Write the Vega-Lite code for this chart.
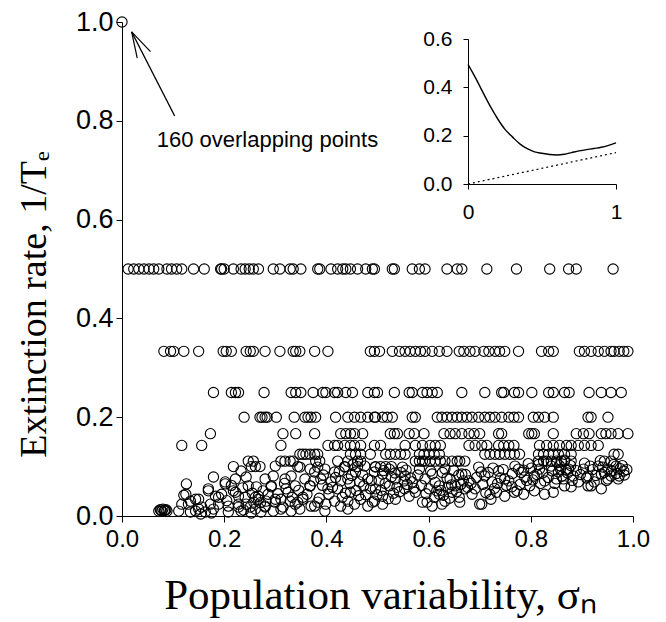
{
  "$schema": "https://vega.github.io/schema/vega-lite/v6.json",
  "width": 511,
  "height": 494,
  "autosize": {"type": "none"},
  "padding": {"left": 122, "top": 22, "right": 33, "bottom": 106},
  "background": "white",
  "config": {
    "view": {"stroke": null},
    "axis": {
      "grid": false,
      "domainColor": "black",
      "tickColor": "black",
      "labelColor": "black",
      "titleColor": "black",
      "labelFont": "Liberation Sans",
      "labelFontSize": 24,
      "tickSize": 6,
      "labelFlush": false,
      "labelOverlap": false,
      "labelPadding": 4
    }
  },
  "datasets": {
    "pts": [
      {"x": 0.0, "y": 1.0},
      {"x": 0.012, "y": 0.5}, {"x": 0.023, "y": 0.5}, {"x": 0.033, "y": 0.5}, {"x": 0.043, "y": 0.5}, {"x": 0.053, "y": 0.5}, {"x": 0.062, "y": 0.5}, {"x": 0.072, "y": 0.5}, {"x": 0.088, "y": 0.5}, {"x": 0.097, "y": 0.5}, {"x": 0.107, "y": 0.5}, {"x": 0.117, "y": 0.5}, {"x": 0.140, "y": 0.5}, {"x": 0.161, "y": 0.5}, {"x": 0.193, "y": 0.5}, {"x": 0.195, "y": 0.5}, {"x": 0.200, "y": 0.5}, {"x": 0.218, "y": 0.5}, {"x": 0.233, "y": 0.5}, {"x": 0.241, "y": 0.5}, {"x": 0.249, "y": 0.5}, {"x": 0.257, "y": 0.5}, {"x": 0.267, "y": 0.5}, {"x": 0.296, "y": 0.5}, {"x": 0.309, "y": 0.5}, {"x": 0.329, "y": 0.5}, {"x": 0.335, "y": 0.5}, {"x": 0.350, "y": 0.5}, {"x": 0.383, "y": 0.5}, {"x": 0.387, "y": 0.5}, {"x": 0.409, "y": 0.5}, {"x": 0.422, "y": 0.5}, {"x": 0.432, "y": 0.5}, {"x": 0.438, "y": 0.5}, {"x": 0.447, "y": 0.5}, {"x": 0.461, "y": 0.5}, {"x": 0.477, "y": 0.5}, {"x": 0.490, "y": 0.5}, {"x": 0.494, "y": 0.5}, {"x": 0.529, "y": 0.5}, {"x": 0.533, "y": 0.5}, {"x": 0.568, "y": 0.5}, {"x": 0.582, "y": 0.5}, {"x": 0.593, "y": 0.5}, {"x": 0.636, "y": 0.5}, {"x": 0.656, "y": 0.5}, {"x": 0.665, "y": 0.5}, {"x": 0.714, "y": 0.5}, {"x": 0.772, "y": 0.5}, {"x": 0.837, "y": 0.5}, {"x": 0.874, "y": 0.5}, {"x": 0.889, "y": 0.5}, {"x": 0.961, "y": 0.5},
      {"x": 0.082, "y": 0.3333}, {"x": 0.095, "y": 0.3333}, {"x": 0.101, "y": 0.3333}, {"x": 0.121, "y": 0.3333}, {"x": 0.150, "y": 0.3333}, {"x": 0.198, "y": 0.3333}, {"x": 0.204, "y": 0.3333}, {"x": 0.214, "y": 0.3333}, {"x": 0.243, "y": 0.3333}, {"x": 0.251, "y": 0.3333}, {"x": 0.257, "y": 0.3333}, {"x": 0.280, "y": 0.3333}, {"x": 0.309, "y": 0.3333}, {"x": 0.335, "y": 0.3333}, {"x": 0.340, "y": 0.3333}, {"x": 0.348, "y": 0.3333}, {"x": 0.377, "y": 0.3333}, {"x": 0.403, "y": 0.3333}, {"x": 0.486, "y": 0.3333}, {"x": 0.494, "y": 0.3333}, {"x": 0.504, "y": 0.3333}, {"x": 0.529, "y": 0.3333}, {"x": 0.543, "y": 0.3333}, {"x": 0.554, "y": 0.3333}, {"x": 0.564, "y": 0.3333}, {"x": 0.574, "y": 0.3333}, {"x": 0.584, "y": 0.3333}, {"x": 0.593, "y": 0.3333}, {"x": 0.607, "y": 0.3333}, {"x": 0.621, "y": 0.3333}, {"x": 0.636, "y": 0.3333}, {"x": 0.660, "y": 0.3333}, {"x": 0.669, "y": 0.3333}, {"x": 0.681, "y": 0.3333}, {"x": 0.691, "y": 0.3333}, {"x": 0.708, "y": 0.3333}, {"x": 0.718, "y": 0.3333}, {"x": 0.730, "y": 0.3333}, {"x": 0.739, "y": 0.3333}, {"x": 0.749, "y": 0.3333}, {"x": 0.776, "y": 0.3333}, {"x": 0.821, "y": 0.3333}, {"x": 0.835, "y": 0.3333}, {"x": 0.844, "y": 0.3333}, {"x": 0.895, "y": 0.3333}, {"x": 0.905, "y": 0.3333}, {"x": 0.918, "y": 0.3333}, {"x": 0.932, "y": 0.3333}, {"x": 0.944, "y": 0.3333}, {"x": 0.957, "y": 0.3333}, {"x": 0.963, "y": 0.3333}, {"x": 0.973, "y": 0.3333}, {"x": 0.982, "y": 0.3333}, {"x": 0.990, "y": 0.3333},
      {"x": 0.179, "y": 0.25}, {"x": 0.214, "y": 0.25}, {"x": 0.222, "y": 0.25}, {"x": 0.228, "y": 0.25}, {"x": 0.278, "y": 0.25}, {"x": 0.331, "y": 0.25}, {"x": 0.340, "y": 0.25}, {"x": 0.350, "y": 0.25}, {"x": 0.374, "y": 0.25}, {"x": 0.393, "y": 0.25}, {"x": 0.399, "y": 0.25}, {"x": 0.416, "y": 0.25}, {"x": 0.422, "y": 0.25}, {"x": 0.438, "y": 0.25}, {"x": 0.451, "y": 0.25}, {"x": 0.481, "y": 0.25}, {"x": 0.494, "y": 0.25}, {"x": 0.500, "y": 0.25}, {"x": 0.533, "y": 0.25}, {"x": 0.562, "y": 0.25}, {"x": 0.568, "y": 0.25}, {"x": 0.588, "y": 0.25}, {"x": 0.597, "y": 0.25}, {"x": 0.607, "y": 0.25}, {"x": 0.617, "y": 0.25}, {"x": 0.665, "y": 0.25}, {"x": 0.710, "y": 0.25}, {"x": 0.743, "y": 0.25}, {"x": 0.747, "y": 0.25}, {"x": 0.768, "y": 0.25}, {"x": 0.776, "y": 0.25}, {"x": 0.802, "y": 0.25}, {"x": 0.835, "y": 0.25}, {"x": 0.844, "y": 0.25}, {"x": 0.866, "y": 0.25}, {"x": 0.875, "y": 0.25}, {"x": 0.914, "y": 0.25}, {"x": 0.938, "y": 0.25}, {"x": 0.957, "y": 0.25}, {"x": 0.977, "y": 0.25},
      {"x": 0.239, "y": 0.2}, {"x": 0.270, "y": 0.2}, {"x": 0.274, "y": 0.2}, {"x": 0.280, "y": 0.2}, {"x": 0.284, "y": 0.2}, {"x": 0.302, "y": 0.2}, {"x": 0.337, "y": 0.2}, {"x": 0.358, "y": 0.2}, {"x": 0.364, "y": 0.2}, {"x": 0.370, "y": 0.2}, {"x": 0.379, "y": 0.2}, {"x": 0.418, "y": 0.2}, {"x": 0.442, "y": 0.2}, {"x": 0.455, "y": 0.2}, {"x": 0.467, "y": 0.2}, {"x": 0.481, "y": 0.2}, {"x": 0.494, "y": 0.2}, {"x": 0.496, "y": 0.2}, {"x": 0.510, "y": 0.2}, {"x": 0.519, "y": 0.2}, {"x": 0.529, "y": 0.2}, {"x": 0.568, "y": 0.2}, {"x": 0.574, "y": 0.2}, {"x": 0.617, "y": 0.2}, {"x": 0.626, "y": 0.2}, {"x": 0.636, "y": 0.2}, {"x": 0.646, "y": 0.2}, {"x": 0.656, "y": 0.2}, {"x": 0.665, "y": 0.2}, {"x": 0.675, "y": 0.2}, {"x": 0.685, "y": 0.2}, {"x": 0.698, "y": 0.2}, {"x": 0.710, "y": 0.2}, {"x": 0.720, "y": 0.2}, {"x": 0.730, "y": 0.2}, {"x": 0.743, "y": 0.2}, {"x": 0.757, "y": 0.2}, {"x": 0.767, "y": 0.2}, {"x": 0.776, "y": 0.2}, {"x": 0.805, "y": 0.2}, {"x": 0.815, "y": 0.2}, {"x": 0.827, "y": 0.2}, {"x": 0.844, "y": 0.2}, {"x": 0.912, "y": 0.2}, {"x": 0.918, "y": 0.2}, {"x": 0.951, "y": 0.2},
      {"x": 0.173, "y": 0.1667}, {"x": 0.315, "y": 0.1667}, {"x": 0.340, "y": 0.1667}, {"x": 0.377, "y": 0.1667}, {"x": 0.428, "y": 0.1667}, {"x": 0.438, "y": 0.1667}, {"x": 0.447, "y": 0.1667}, {"x": 0.455, "y": 0.1667}, {"x": 0.471, "y": 0.1667}, {"x": 0.525, "y": 0.1667}, {"x": 0.533, "y": 0.1667}, {"x": 0.539, "y": 0.1667}, {"x": 0.562, "y": 0.1667}, {"x": 0.572, "y": 0.1667}, {"x": 0.591, "y": 0.1667}, {"x": 0.630, "y": 0.1667}, {"x": 0.642, "y": 0.1667}, {"x": 0.652, "y": 0.1667}, {"x": 0.665, "y": 0.1667}, {"x": 0.679, "y": 0.1667}, {"x": 0.689, "y": 0.1667}, {"x": 0.700, "y": 0.1667}, {"x": 0.737, "y": 0.1667}, {"x": 0.743, "y": 0.1667}, {"x": 0.796, "y": 0.1667}, {"x": 0.802, "y": 0.1667}, {"x": 0.807, "y": 0.1667}, {"x": 0.844, "y": 0.1667}, {"x": 0.889, "y": 0.1667}, {"x": 0.903, "y": 0.1667}, {"x": 0.914, "y": 0.1667}, {"x": 0.938, "y": 0.1667}, {"x": 0.947, "y": 0.1667}, {"x": 0.957, "y": 0.1667}, {"x": 0.971, "y": 0.1667}, {"x": 0.990, "y": 0.1667},
      {"x": 0.117, "y": 0.1429}, {"x": 0.156, "y": 0.1429}, {"x": 0.311, "y": 0.1429}, {"x": 0.403, "y": 0.1429}, {"x": 0.416, "y": 0.1429}, {"x": 0.422, "y": 0.1429}, {"x": 0.436, "y": 0.1429}, {"x": 0.447, "y": 0.1429}, {"x": 0.455, "y": 0.1429}, {"x": 0.467, "y": 0.1429}, {"x": 0.494, "y": 0.1429}, {"x": 0.506, "y": 0.1429}, {"x": 0.554, "y": 0.1429}, {"x": 0.574, "y": 0.1429}, {"x": 0.588, "y": 0.1429}, {"x": 0.603, "y": 0.1429}, {"x": 0.613, "y": 0.1429}, {"x": 0.623, "y": 0.1429}, {"x": 0.679, "y": 0.1429}, {"x": 0.691, "y": 0.1429}, {"x": 0.704, "y": 0.1429}, {"x": 0.714, "y": 0.1429}, {"x": 0.737, "y": 0.1429}, {"x": 0.747, "y": 0.1429}, {"x": 0.757, "y": 0.1429}, {"x": 0.767, "y": 0.1429}, {"x": 0.817, "y": 0.1429}, {"x": 0.831, "y": 0.1429}, {"x": 0.844, "y": 0.1429}, {"x": 0.856, "y": 0.1429}, {"x": 0.870, "y": 0.1429}, {"x": 0.879, "y": 0.1429}, {"x": 0.893, "y": 0.1429}, {"x": 0.905, "y": 0.1429}, {"x": 0.918, "y": 0.1429}, {"x": 0.932, "y": 0.1429},
      {"x": 0.348, "y": 0.125}, {"x": 0.354, "y": 0.125}, {"x": 0.360, "y": 0.125}, {"x": 0.368, "y": 0.125}, {"x": 0.377, "y": 0.125}, {"x": 0.383, "y": 0.125}, {"x": 0.447, "y": 0.125}, {"x": 0.457, "y": 0.125}, {"x": 0.467, "y": 0.125}, {"x": 0.486, "y": 0.125}, {"x": 0.516, "y": 0.125}, {"x": 0.525, "y": 0.125}, {"x": 0.535, "y": 0.125}, {"x": 0.545, "y": 0.125}, {"x": 0.554, "y": 0.125}, {"x": 0.582, "y": 0.125}, {"x": 0.591, "y": 0.125}, {"x": 0.601, "y": 0.125}, {"x": 0.611, "y": 0.125}, {"x": 0.621, "y": 0.125}, {"x": 0.710, "y": 0.125}, {"x": 0.720, "y": 0.125}, {"x": 0.730, "y": 0.125}, {"x": 0.739, "y": 0.125}, {"x": 0.749, "y": 0.125}, {"x": 0.759, "y": 0.125}, {"x": 0.768, "y": 0.125}, {"x": 0.778, "y": 0.125}, {"x": 0.815, "y": 0.125}, {"x": 0.825, "y": 0.125}, {"x": 0.835, "y": 0.125}, {"x": 0.844, "y": 0.125}, {"x": 0.854, "y": 0.125}, {"x": 0.866, "y": 0.125}, {"x": 0.879, "y": 0.125}, {"x": 0.963, "y": 0.125}, {"x": 0.971, "y": 0.125},
      {"x": 0.247, "y": 0.1111}, {"x": 0.257, "y": 0.1111}, {"x": 0.311, "y": 0.1111}, {"x": 0.319, "y": 0.1111}, {"x": 0.329, "y": 0.1111}, {"x": 0.335, "y": 0.1111}, {"x": 0.379, "y": 0.1111}, {"x": 0.387, "y": 0.1111}, {"x": 0.422, "y": 0.1111}, {"x": 0.442, "y": 0.1111}, {"x": 0.461, "y": 0.1111}, {"x": 0.467, "y": 0.1111}, {"x": 0.574, "y": 0.1111}, {"x": 0.582, "y": 0.1111}, {"x": 0.588, "y": 0.1111}, {"x": 0.593, "y": 0.1111}, {"x": 0.603, "y": 0.1111}, {"x": 0.613, "y": 0.1111}, {"x": 0.623, "y": 0.1111}, {"x": 0.632, "y": 0.1111}, {"x": 0.646, "y": 0.1111}, {"x": 0.656, "y": 0.1111}, {"x": 0.661, "y": 0.1111}, {"x": 0.671, "y": 0.1111}, {"x": 0.815, "y": 0.1111}, {"x": 0.825, "y": 0.1111}, {"x": 0.831, "y": 0.1111}, {"x": 0.840, "y": 0.1111}, {"x": 0.850, "y": 0.1111}, {"x": 0.860, "y": 0.1111}, {"x": 0.866, "y": 0.1111}, {"x": 0.879, "y": 0.1111}, {"x": 0.944, "y": 0.1111}, {"x": 0.957, "y": 0.1111},
      {"x": 0.218, "y": 0.1}, {"x": 0.253, "y": 0.1}, {"x": 0.261, "y": 0.1}, {"x": 0.270, "y": 0.1}, {"x": 0.344, "y": 0.1}, {"x": 0.436, "y": 0.1}, {"x": 0.461, "y": 0.1}, {"x": 0.496, "y": 0.1}, {"x": 0.506, "y": 0.1}, {"x": 0.516, "y": 0.1}, {"x": 0.527, "y": 0.1},
      {"x": 0.072, "y": 0.010}, {"x": 0.075, "y": 0.013}, {"x": 0.078, "y": 0.010}, {"x": 0.080, "y": 0.014}, {"x": 0.083, "y": 0.011}, {"x": 0.086, "y": 0.013}, {"x": 0.088, "y": 0.010}, {"x": 0.076, "y": 0.012}, {"x": 0.084, "y": 0.012},
      {"x": 0.233, "y": 0.091}, {"x": 0.179, "y": 0.079}, {"x": 0.126, "y": 0.065}, {"x": 0.169, "y": 0.051}, {"x": 0.121, "y": 0.042}, {"x": 0.117, "y": 0.024}, {"x": 0.134, "y": 0.030}, {"x": 0.150, "y": 0.034}, {"x": 0.156, "y": 0.018}, {"x": 0.144, "y": 0.010}, {"x": 0.163, "y": 0.008}, {"x": 0.179, "y": 0.014}, {"x": 0.183, "y": 0.040}, {"x": 0.195, "y": 0.044}, {"x": 0.202, "y": 0.069}, {"x": 0.222, "y": 0.075}, {"x": 0.218, "y": 0.051}, {"x": 0.228, "y": 0.040}, {"x": 0.243, "y": 0.079}, {"x": 0.247, "y": 0.061}, {"x": 0.263, "y": 0.059}, {"x": 0.261, "y": 0.038}, {"x": 0.280, "y": 0.075}, {"x": 0.276, "y": 0.051}, {"x": 0.292, "y": 0.061}, {"x": 0.300, "y": 0.101}, {"x": 0.296, "y": 0.081}, {"x": 0.319, "y": 0.075}, {"x": 0.321, "y": 0.055}, {"x": 0.331, "y": 0.081}, {"x": 0.339, "y": 0.061}, {"x": 0.348, "y": 0.099}, {"x": 0.358, "y": 0.075}, {"x": 0.368, "y": 0.061}, {"x": 0.368, "y": 0.095}, {"x": 0.377, "y": 0.089}, {"x": 0.383, "y": 0.099}, {"x": 0.389, "y": 0.075}, {"x": 0.397, "y": 0.095}, {"x": 0.403, "y": 0.055}, {"x": 0.409, "y": 0.069}, {"x": 0.416, "y": 0.089}, {"x": 0.422, "y": 0.055}, {"x": 0.428, "y": 0.071}, {"x": 0.436, "y": 0.099}, {"x": 0.442, "y": 0.075}, {"x": 0.447, "y": 0.048}, {"x": 0.457, "y": 0.089}, {"x": 0.465, "y": 0.069}, {"x": 0.475, "y": 0.101}, {"x": 0.481, "y": 0.075}, {"x": 0.486, "y": 0.055}, {"x": 0.494, "y": 0.089},
      {"x": 0.267, "y": 0.034}, {"x": 0.282, "y": 0.030}, {"x": 0.300, "y": 0.028}, {"x": 0.311, "y": 0.034}, {"x": 0.329, "y": 0.030}, {"x": 0.344, "y": 0.028}, {"x": 0.354, "y": 0.034}, {"x": 0.370, "y": 0.020}, {"x": 0.383, "y": 0.028}, {"x": 0.399, "y": 0.024}, {"x": 0.416, "y": 0.030}, {"x": 0.428, "y": 0.020}, {"x": 0.442, "y": 0.030}, {"x": 0.455, "y": 0.024}, {"x": 0.467, "y": 0.034}, {"x": 0.481, "y": 0.020}, {"x": 0.494, "y": 0.030}, {"x": 0.189, "y": 0.024}, {"x": 0.208, "y": 0.020}, {"x": 0.228, "y": 0.018}, {"x": 0.243, "y": 0.024}, {"x": 0.261, "y": 0.014}, {"x": 0.280, "y": 0.018}, {"x": 0.296, "y": 0.010}, {"x": 0.315, "y": 0.018}, {"x": 0.331, "y": 0.010}, {"x": 0.348, "y": 0.014}, {"x": 0.397, "y": 0.010}, {"x": 0.442, "y": 0.014}, {"x": 0.111, "y": 0.010}, {"x": 0.134, "y": 0.008}, {"x": 0.154, "y": 0.004}, {"x": 0.175, "y": 0.006}, {"x": 0.208, "y": 0.008}, {"x": 0.233, "y": 0.010}, {"x": 0.253, "y": 0.006}, {"x": 0.272, "y": 0.008},
      {"x": 0.125, "y": 0.044}, {"x": 0.130, "y": 0.024}, {"x": 0.144, "y": 0.034}, {"x": 0.150, "y": 0.014}, {"x": 0.169, "y": 0.055}, {"x": 0.173, "y": 0.024}, {"x": 0.189, "y": 0.038}, {"x": 0.202, "y": 0.065}, {"x": 0.222, "y": 0.048}, {"x": 0.228, "y": 0.024}, {"x": 0.241, "y": 0.038}, {"x": 0.251, "y": 0.018}, {"x": 0.267, "y": 0.040}, {"x": 0.280, "y": 0.020}, {"x": 0.292, "y": 0.059}, {"x": 0.300, "y": 0.034}, {"x": 0.311, "y": 0.014}, {"x": 0.325, "y": 0.048}, {"x": 0.339, "y": 0.024}, {"x": 0.354, "y": 0.038}, {"x": 0.368, "y": 0.061}, {"x": 0.377, "y": 0.020},
      {"x": 0.496, "y": 0.099}, {"x": 0.510, "y": 0.085}, {"x": 0.523, "y": 0.095}, {"x": 0.535, "y": 0.075}, {"x": 0.549, "y": 0.099}, {"x": 0.554, "y": 0.081}, {"x": 0.568, "y": 0.069}, {"x": 0.582, "y": 0.095}, {"x": 0.593, "y": 0.075}, {"x": 0.607, "y": 0.085}, {"x": 0.621, "y": 0.061}, {"x": 0.632, "y": 0.095}, {"x": 0.642, "y": 0.075}, {"x": 0.652, "y": 0.061}, {"x": 0.665, "y": 0.085}, {"x": 0.679, "y": 0.071}, {"x": 0.691, "y": 0.055}, {"x": 0.698, "y": 0.099}, {"x": 0.710, "y": 0.081}, {"x": 0.724, "y": 0.069}, {"x": 0.737, "y": 0.091}, {"x": 0.749, "y": 0.075}, {"x": 0.763, "y": 0.059}, {"x": 0.776, "y": 0.095}, {"x": 0.788, "y": 0.079}, {"x": 0.798, "y": 0.061}, {"x": 0.807, "y": 0.081}, {"x": 0.817, "y": 0.095}, {"x": 0.827, "y": 0.071}, {"x": 0.840, "y": 0.101}, {"x": 0.854, "y": 0.089}, {"x": 0.864, "y": 0.075}, {"x": 0.874, "y": 0.095}, {"x": 0.883, "y": 0.081}, {"x": 0.893, "y": 0.069}, {"x": 0.903, "y": 0.095}, {"x": 0.912, "y": 0.081}, {"x": 0.918, "y": 0.061}, {"x": 0.932, "y": 0.101}, {"x": 0.938, "y": 0.085}, {"x": 0.951, "y": 0.095}, {"x": 0.957, "y": 0.081}, {"x": 0.967, "y": 0.101}, {"x": 0.973, "y": 0.081}, {"x": 0.982, "y": 0.091},
      {"x": 0.496, "y": 0.055}, {"x": 0.510, "y": 0.040}, {"x": 0.523, "y": 0.061}, {"x": 0.535, "y": 0.034}, {"x": 0.553, "y": 0.055}, {"x": 0.562, "y": 0.040}, {"x": 0.574, "y": 0.048}, {"x": 0.588, "y": 0.028}, {"x": 0.601, "y": 0.055}, {"x": 0.611, "y": 0.038}, {"x": 0.621, "y": 0.044}, {"x": 0.632, "y": 0.030}, {"x": 0.646, "y": 0.048}, {"x": 0.660, "y": 0.038}, {"x": 0.671, "y": 0.055}, {"x": 0.685, "y": 0.044}, {"x": 0.704, "y": 0.024}, {"x": 0.720, "y": 0.044}, {"x": 0.733, "y": 0.048}, {"x": 0.749, "y": 0.040}, {"x": 0.768, "y": 0.048}, {"x": 0.786, "y": 0.044}, {"x": 0.807, "y": 0.051}, {"x": 0.827, "y": 0.044}, {"x": 0.844, "y": 0.048}, {"x": 0.879, "y": 0.059}, {"x": 0.912, "y": 0.061}, {"x": 0.951, "y": 0.075}, {"x": 0.971, "y": 0.075}, {"x": 0.597, "y": 0.028}, {"x": 0.607, "y": 0.020}, {"x": 0.626, "y": 0.024}, {"x": 0.661, "y": 0.028}, {"x": 0.700, "y": 0.024}, {"x": 0.510, "y": 0.024}, {"x": 0.490, "y": 0.028}, {"x": 0.850, "y": 0.075}, {"x": 0.866, "y": 0.061}, {"x": 0.938, "y": 0.055}, {"x": 0.924, "y": 0.069},
      {"x": 0.503, "y": 0.072}, {"x": 0.515, "y": 0.066}, {"x": 0.527, "y": 0.079}, {"x": 0.538, "y": 0.058}, {"x": 0.546, "y": 0.088}, {"x": 0.558, "y": 0.064}, {"x": 0.565, "y": 0.077}, {"x": 0.507, "y": 0.052}, {"x": 0.531, "y": 0.046}, {"x": 0.552, "y": 0.071},
      {"x": 0.613, "y": 0.068}, {"x": 0.624, "y": 0.052}, {"x": 0.636, "y": 0.077}, {"x": 0.645, "y": 0.063}, {"x": 0.655, "y": 0.049}, {"x": 0.668, "y": 0.071}, {"x": 0.676, "y": 0.058}, {"x": 0.629, "y": 0.042}, {"x": 0.659, "y": 0.083}, {"x": 0.641, "y": 0.036},
      {"x": 0.781, "y": 0.088}, {"x": 0.792, "y": 0.072}, {"x": 0.801, "y": 0.097}, {"x": 0.812, "y": 0.084}, {"x": 0.819, "y": 0.066}, {"x": 0.795, "y": 0.106},
      {"x": 0.842, "y": 0.091}, {"x": 0.851, "y": 0.108}, {"x": 0.858, "y": 0.095}, {"x": 0.866, "y": 0.113}, {"x": 0.872, "y": 0.087}, {"x": 0.878, "y": 0.102}, {"x": 0.861, "y": 0.081},
      {"x": 0.905, "y": 0.107}, {"x": 0.921, "y": 0.094}, {"x": 0.936, "y": 0.112}, {"x": 0.944, "y": 0.088}, {"x": 0.962, "y": 0.104}, {"x": 0.975, "y": 0.096}, {"x": 0.983, "y": 0.083},
      {"x": 0.392, "y": 0.062}, {"x": 0.405, "y": 0.044}, {"x": 0.418, "y": 0.078}, {"x": 0.431, "y": 0.038}, {"x": 0.446, "y": 0.066}, {"x": 0.458, "y": 0.052}, {"x": 0.471, "y": 0.083}, {"x": 0.477, "y": 0.043}, {"x": 0.425, "y": 0.090}, {"x": 0.452, "y": 0.104},
      {"x": 0.706, "y": 0.064}, {"x": 0.717, "y": 0.088}, {"x": 0.729, "y": 0.056}, {"x": 0.741, "y": 0.077}, {"x": 0.752, "y": 0.062}, {"x": 0.764, "y": 0.086}, {"x": 0.773, "y": 0.051}, {"x": 0.722, "y": 0.034},
      {"x": 0.305, "y": 0.045}, {"x": 0.318, "y": 0.066}, {"x": 0.333, "y": 0.038}, {"x": 0.346, "y": 0.052}, {"x": 0.362, "y": 0.044}, {"x": 0.375, "y": 0.071}, {"x": 0.386, "y": 0.036}, {"x": 0.394, "y": 0.083}, {"x": 0.412, "y": 0.058}, {"x": 0.437, "y": 0.046}, {"x": 0.449, "y": 0.082}, {"x": 0.463, "y": 0.041}, {"x": 0.473, "y": 0.061}, {"x": 0.488, "y": 0.072}, {"x": 0.499, "y": 0.043}, {"x": 0.512, "y": 0.092}, {"x": 0.521, "y": 0.035}, {"x": 0.534, "y": 0.087}, {"x": 0.543, "y": 0.049}, {"x": 0.556, "y": 0.093}, {"x": 0.571, "y": 0.056}, {"x": 0.579, "y": 0.083}, {"x": 0.586, "y": 0.062}, {"x": 0.595, "y": 0.045}, {"x": 0.604, "y": 0.091}, {"x": 0.616, "y": 0.051}, {"x": 0.627, "y": 0.088}, {"x": 0.638, "y": 0.058}, {"x": 0.649, "y": 0.092}, {"x": 0.663, "y": 0.064}, {"x": 0.672, "y": 0.084}, {"x": 0.683, "y": 0.066}, {"x": 0.694, "y": 0.078}, {"x": 0.703, "y": 0.089}, {"x": 0.712, "y": 0.047}, {"x": 0.726, "y": 0.097}, {"x": 0.735, "y": 0.066}, {"x": 0.746, "y": 0.094}, {"x": 0.757, "y": 0.071}, {"x": 0.769, "y": 0.101}, {"x": 0.779, "y": 0.064}, {"x": 0.786, "y": 0.093}, {"x": 0.804, "y": 0.073}, {"x": 0.815, "y": 0.104}, {"x": 0.823, "y": 0.087}, {"x": 0.834, "y": 0.078}, {"x": 0.847, "y": 0.066}, {"x": 0.856, "y": 0.102}, {"x": 0.869, "y": 0.093}, {"x": 0.881, "y": 0.072}, {"x": 0.889, "y": 0.092}, {"x": 0.897, "y": 0.084}, {"x": 0.909, "y": 0.077}, {"x": 0.916, "y": 0.101}, {"x": 0.927, "y": 0.082}, {"x": 0.941, "y": 0.099}, {"x": 0.948, "y": 0.072}, {"x": 0.958, "y": 0.091}, {"x": 0.968, "y": 0.086}, {"x": 0.979, "y": 0.102}, {"x": 0.988, "y": 0.094},
      {"x": 0.205, "y": 0.031}, {"x": 0.214, "y": 0.062}, {"x": 0.236, "y": 0.057}, {"x": 0.255, "y": 0.046}, {"x": 0.271, "y": 0.027}, {"x": 0.286, "y": 0.044}, {"x": 0.238, "y": 0.012}, {"x": 0.258, "y": 0.028}
    ],
    "arrow": [
      {"x": 0.103, "y": 0.810, "x2": 0.0189, "y2": 0.980},
      {"x": 0.0189, "y": 0.980, "x2": 0.0298, "y2": 0.927},
      {"x": 0.0189, "y": 0.980, "x2": 0.0558, "y2": 0.940}
    ],
    "note": [
      {"x": 0.068, "y": 0.747, "t": "160 overlapping points"}
    ],
    "curve": [
      {"x": 0.0, "y": 0.495}, {"x": 0.05, "y": 0.44}, {"x": 0.1, "y": 0.38}, {"x": 0.15, "y": 0.322}, {"x": 0.2, "y": 0.27}, {"x": 0.25, "y": 0.226}, {"x": 0.3, "y": 0.195}, {"x": 0.35, "y": 0.166}, {"x": 0.4, "y": 0.146}, {"x": 0.45, "y": 0.133}, {"x": 0.5, "y": 0.127}, {"x": 0.55, "y": 0.122}, {"x": 0.6, "y": 0.12}, {"x": 0.65, "y": 0.123}, {"x": 0.7, "y": 0.13}, {"x": 0.75, "y": 0.137}, {"x": 0.8, "y": 0.142}, {"x": 0.85, "y": 0.147}, {"x": 0.9, "y": 0.152}, {"x": 0.95, "y": 0.16}, {"x": 1.0, "y": 0.17}
    ],
    "dotted": [
      {"x": 0.0, "y": 0.0}, {"x": 1.0, "y": 0.13}
    ]
  },
  "resolve": {"scale": {"x": "independent", "y": "independent"}, "axis": {"x": "independent", "y": "independent"}},
  "layer": [
    {
      "encoding": {
        "x": {"field": "x", "type": "quantitative",
          "scale": {"domain": [0, 1], "nice": false, "zero": false},
          "axis": {"orient": "bottom", "values": [0, 0.2, 0.4, 0.6, 0.8, 1.0], "format": ".1f", "labelPadding": 5,
            "title": "Population variability, σₙ", "titleFont": "Liberation Serif", "titleFontSize": 43,
            "titleFontWeight": "normal", "titleBaseline": "alphabetic", "titleY": 92, "titleX": 258}},
        "y": {"field": "y", "type": "quantitative",
          "scale": {"domain": [0, 1], "nice": false, "zero": false},
          "axis": {"orient": "left", "values": [0, 0.2, 0.4, 0.6, 0.8, 1.0], "format": ".1f", "labelPadding": 3,
            "labelFontSize": 27,
            "title": "Extinction rate, 1/Tₑ", "titleFont": "Liberation Serif", "titleFontSize": 38,
            "titleFontWeight": "normal", "titleAngle": 270, "titleBaseline": "middle", "titleAlign": "center",
            "titleX": -88, "titleY": 282}}
      },
      "layer": [
        {
          "data": {"name": "pts"},
          "mark": {"type": "point", "shape": "circle", "filled": false, "stroke": "black", "strokeWidth": 1.1, "size": 105, "opacity": 1}
        },
        {
          "data": {"name": "arrow"},
          "mark": {"type": "rule", "stroke": "black", "strokeWidth": 1.2},
          "encoding": {
            "x2": {"field": "x2"},
            "y2": {"field": "y2"}
          }
        },
        {
          "data": {"name": "note"},
          "mark": {"type": "text", "align": "left", "baseline": "alphabetic", "font": "Liberation Sans", "fontSize": 22, "color": "black"},
          "encoding": {
            "text": {"field": "t"}
          }
        }
      ]
    },
    {
      "encoding": {
        "x": {"field": "x", "type": "quantitative",
          "scale": {"domain": [0, 1], "nice": false, "zero": false, "range": [346, 494]},
          "axis": {"orient": "bottom", "offset": -332, "values": [0, 1], "format": "d", "title": null,
            "labelFontSize": 21, "tickSize": 5, "labelPadding": 12}},
        "y": {"field": "y", "type": "quantitative",
          "scale": {"domain": [0, 0.6], "nice": false, "zero": false, "range": [162, 17]},
          "axis": {"orient": "left", "offset": -346, "values": [0, 0.2, 0.4, 0.6], "format": ".1f", "title": null,
            "labelFontSize": 21, "tickSize": 5, "labelPadding": 11}}
      },
      "layer": [
        {
          "data": {"name": "curve"},
          "mark": {"type": "line", "stroke": "black", "strokeWidth": 1.4, "interpolate": "monotone"}
        },
        {
          "data": {"name": "dotted"},
          "mark": {"type": "line", "stroke": "black", "strokeWidth": 1.2, "strokeDash": [2, 3]}
        }
      ]
    }
  ]
}
